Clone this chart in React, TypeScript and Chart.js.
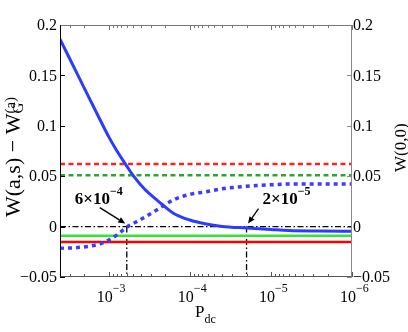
import React, { useEffect, useRef } from 'react';
import { Chart, registerables } from 'chart.js';
Chart.register(...registerables);

// ---- data ----
const pdc = [4e-3, 2.3e-3, 1.3e-3, 1e-3, 8e-4, 6e-4, 5e-4, 3.6e-4, 2.5e-4, 1.6e-4, 1e-4, 6.5e-5, 4e-5, 2e-5, 1e-5, 6e-6, 2.5e-6, 1e-6];
const wDiff = [0.186, 0.147, 0.107, 0.089, 0.0755, 0.060, 0.0505, 0.037, 0.0258, 0.0133, 0.0065, 0.0028, 0.0002, -0.0014, -0.0029, -0.0039, -0.0044, -0.0047];
const w00 = [-0.0215, -0.0206, -0.0173, -0.0133, -0.0085, -0.0005, 0.003, 0.0094, 0.017, 0.0265, 0.032, 0.0344, 0.0375, 0.040, 0.0415, 0.0422, 0.0423, 0.0422];
const pdcRange = [4e-3, 1e-6];
const redDashedLevel = 0.062;
const greenDashedLevel = 0.051;
const greenSolidLevel = -0.0092;
const redSolidLevel = -0.0153;
const zeroLevel = 0;
const yMin = -0.05;
const yMax = 0.2;
const markerPdc = [6e-4, 2e-5];
const markerMantissa = ['6×10', '2×10'];
const markerExponent = ['−4', '−5'];
const yTicks = [-0.05, 0, 0.05, 0.1, 0.15, 0.2];
const yTickLabels = ['−0.05', '0', '0.05', '0.1', '0.15', '0.2'];
const xTicks = [1e-3, 1e-4, 1e-5, 1e-6];
const xTickExponents = ['−3', '−4', '−5', '−6'];

const FONT = '"Liberation Serif", "Times New Roman", serif';

const hline = (v: number, color: string, width: number, dash: number[]) => ({
  data: pdcRange.map((p) => ({ x: p, y: v })),
  borderColor: color,
  borderWidth: width,
  borderDash: dash,
  borderCapStyle: 'butt',
  pointRadius: 0,
  fill: false,
});

const vline = (p: number) => ({
  data: [{ x: p, y: zeroLevel }, { x: p, y: yMin }],
  borderColor: '#000',
  borderWidth: 1.3,
  borderDash: [6, 2.5, 1.5, 2.5],
  pointRadius: 0,
  fill: false,
});

function arrow(ctx: CanvasRenderingContext2D, x0: number, y0: number, x1: number, y1: number) {
  const ang = Math.atan2(y1 - y0, x1 - x0);
  const L = 7, W = 3;
  ctx.beginPath();
  ctx.moveTo(x0, y0);
  ctx.lineTo(x1 - L * Math.cos(ang), y1 - L * Math.sin(ang));
  ctx.stroke();
  ctx.beginPath();
  ctx.moveTo(x1, y1);
  ctx.lineTo(x1 - L * Math.cos(ang) + W * Math.sin(ang), y1 - L * Math.sin(ang) - W * Math.cos(ang));
  ctx.lineTo(x1 - L * Math.cos(ang) - W * Math.sin(ang), y1 - L * Math.sin(ang) + W * Math.cos(ang));
  ctx.closePath();
  ctx.fill();
}

const decor = {
  id: 'decor',
  afterDraw(chart: any) {
    const { ctx, chartArea: a, scales } = chart;
    const xs = scales.x, ys = scales.y;
    ctx.save();
    // minor / major x ticks
    const lo = Math.floor(Math.log10(pdcRange[1]));
    const hi = Math.ceil(Math.log10(pdcRange[0]));
    ctx.lineWidth = 1;
    for (let e = lo; e < hi; e++) {
      for (let m = 1; m < 10; m++) {
        const v = m * Math.pow(10, e);
        if (v < pdcRange[1] * 0.999 || v > pdcRange[0] * 1.001) continue;
        const px = Math.round(xs.getPixelForValue(v)) + 0.5;
        const len = m === 1 ? 5 : 3;
        ctx.strokeStyle = '#555';
        ctx.beginPath(); ctx.moveTo(px, a.bottom); ctx.lineTo(px, a.bottom - len); ctx.stroke();
        ctx.strokeStyle = '#777';
        ctx.beginPath(); ctx.moveTo(px, a.top); ctx.lineTo(px, a.top + len); ctx.stroke();
      }
    }
    // y ticks
    yTicks.forEach((t) => {
      const py = Math.round(ys.getPixelForValue(t)) + 0.5;
      ctx.strokeStyle = '#000';
      ctx.beginPath(); ctx.moveTo(a.left, py); ctx.lineTo(a.left + 5, py); ctx.stroke();
      ctx.strokeStyle = '#888';
      ctx.beginPath(); ctx.moveTo(a.right, py); ctx.lineTo(a.right - 5, py); ctx.stroke();
    });
    // axis lines
    const L = Math.round(a.left) + 0.5, R = Math.round(a.right) - 0.5, T = Math.round(a.top) + 0.5, B = Math.round(a.bottom) - 0.5;
    ctx.strokeStyle = '#777'; ctx.beginPath(); ctx.moveTo(L, T); ctx.lineTo(R, T); ctx.stroke();
    ctx.strokeStyle = '#888'; ctx.beginPath(); ctx.moveTo(R, T); ctx.lineTo(R, B); ctx.stroke();
    ctx.strokeStyle = '#555'; ctx.beginPath(); ctx.moveTo(L, B); ctx.lineTo(R, B); ctx.stroke();
    ctx.strokeStyle = '#000'; ctx.beginPath(); ctx.moveTo(L, T); ctx.lineTo(L, B); ctx.stroke();

    // y tick labels
    ctx.fillStyle = '#000';
    ctx.font = `16px ${FONT}`;
    ctx.textBaseline = 'middle';
    yTicks.forEach((t, i) => {
      const py = ys.getPixelForValue(t);
      ctx.textAlign = 'right';
      ctx.fillText(yTickLabels[i], a.left - 3, py + 1);
      ctx.textAlign = 'left';
      ctx.fillText(yTickLabels[i], a.right + 1, py + 1);
    });
    // x tick labels
    ctx.textAlign = 'left';
    ctx.textBaseline = 'alphabetic';
    xTicks.forEach((t, i) => {
      const px = xs.getPixelForValue(t);
      ctx.font = `16px ${FONT}`;
      ctx.fillText('10', px - 12, a.bottom + 25);
      const w = ctx.measureText('10').width;
      ctx.font = `12px ${FONT}`;
      ctx.fillText(xTickExponents[i], px - 12 + w, a.bottom + 15);
    });
    // x title
    ctx.font = `17px ${FONT}`;
    ctx.fillText('P', 195, 317);
    const pw = ctx.measureText('P').width;
    ctx.font = `12px ${FONT}`;
    ctx.fillText('dc', 195 + pw, 323);

    // left title
    ctx.save();
    ctx.translate(20, 217);
    ctx.rotate(-Math.PI / 2);
    ctx.font = `22px ${FONT}`;
    ctx.fillText('W(a,s) − W', 0, 0);
    const tw = ctx.measureText('W(a,s) − W').width;
    ctx.font = `15px ${FONT}`;
    ctx.fillText('G', tw, 3);
    ctx.fillText('(a)', tw, -5);
    ctx.restore();

    // right title
    ctx.save();
    ctx.translate(406, 172);
    ctx.rotate(-Math.PI / 2);
    ctx.font = `17px ${FONT}`;
    ctx.fillText('W(0,0)', 0, 0);
    ctx.restore();

    // annotations
    const textDx = [-52, 16];
    const tail = [[-27, -19], [12, -18]];
    markerPdc.forEach((p, i) => {
      const ax = xs.getPixelForValue(p);
      const ay = ys.getPixelForValue(zeroLevel);
      ctx.fillStyle = '#000';
      ctx.strokeStyle = '#000';
      ctx.lineWidth = 1.3;
      arrow(ctx, ax + tail[i][0], ay + tail[i][1], ax + (i === 0 ? -1.5 : 1.5), ay - 3);
      ctx.font = `bold 17px ${FONT}`;
      ctx.fillText(markerMantissa[i], ax + textDx[i], ay - 23);
      const mw = ctx.measureText(markerMantissa[i]).width;
      ctx.font = `bold 12px ${FONT}`;
      ctx.fillText(markerExponent[i], ax + textDx[i] + mw, ay - 32);
    });
    ctx.restore();
  },
};

export default function App() {
  const ref = useRef<HTMLCanvasElement>(null);
  useEffect(() => {
    const chart = new Chart(ref.current as HTMLCanvasElement, {
      type: 'line',
      data: {
        datasets: [
          {
            data: pdc.map((p, i) => ({ x: p, y: wDiff[i] })),
            borderColor: '#2b3cff',
            borderWidth: 3,
            pointRadius: 0,
            cubicInterpolationMode: 'monotone',
            fill: false,
          },
          {
            data: pdc.map((p, i) => ({ x: p, y: w00[i] })),
            borderColor: '#3c3cff',
            borderWidth: 3.5,
            borderDash: [4, 4],
            borderCapStyle: 'butt',
            pointRadius: 0,
            cubicInterpolationMode: 'monotone',
            fill: false,
          },
          hline(redSolidLevel, '#ff0000', 2.5, []),
          hline(greenSolidLevel, '#33e633', 2.5, []),
          hline(redDashedLevel, '#ff2020', 2.5, [5, 3.5]),
          hline(greenDashedLevel, '#2aa82a', 2.5, [5, 3.5]),
          hline(zeroLevel, '#000', 1.2, [6, 2.5, 1.5, 2.5]),
          vline(markerPdc[0]),
          vline(markerPdc[1]),
        ] as any,
      },
      options: {
        animation: false,
        responsive: false,
        layout: { padding: { top: 25, left: 0, right: 0, bottom: 0 } },
        plugins: { legend: { display: false }, tooltip: { enabled: false } },
        scales: {
          x: {
            type: 'logarithmic',
            position: 'bottom',
            min: pdcRange[1],
            max: pdcRange[0],
            reverse: true,
            ticks: { display: false },
            grid: { display: false },
            border: { display: false },
            afterFit: (s: any) => { s.height = 55; },
          },
          y: {
            type: 'linear',
            position: 'left',
            min: yMin,
            max: yMax,
            ticks: { display: false },
            grid: { display: false },
            border: { display: false },
            afterFit: (s: any) => { s.width = 60; },
          },
          y2: {
            type: 'linear',
            position: 'right',
            min: yMin,
            max: yMax,
            ticks: { display: false },
            grid: { display: false },
            border: { display: false },
            afterFit: (s: any) => { s.width = 56; },
          },
        },
      } as any,
      plugins: [decor],
    });
    return () => chart.destroy();
  }, []);
  return (
    <canvas
      ref={ref}
      width={408}
      height={332}
      style={{ position: 'absolute', left: 0, top: 0, width: 408, height: 332, display: 'block' }}
    />
  );
}
